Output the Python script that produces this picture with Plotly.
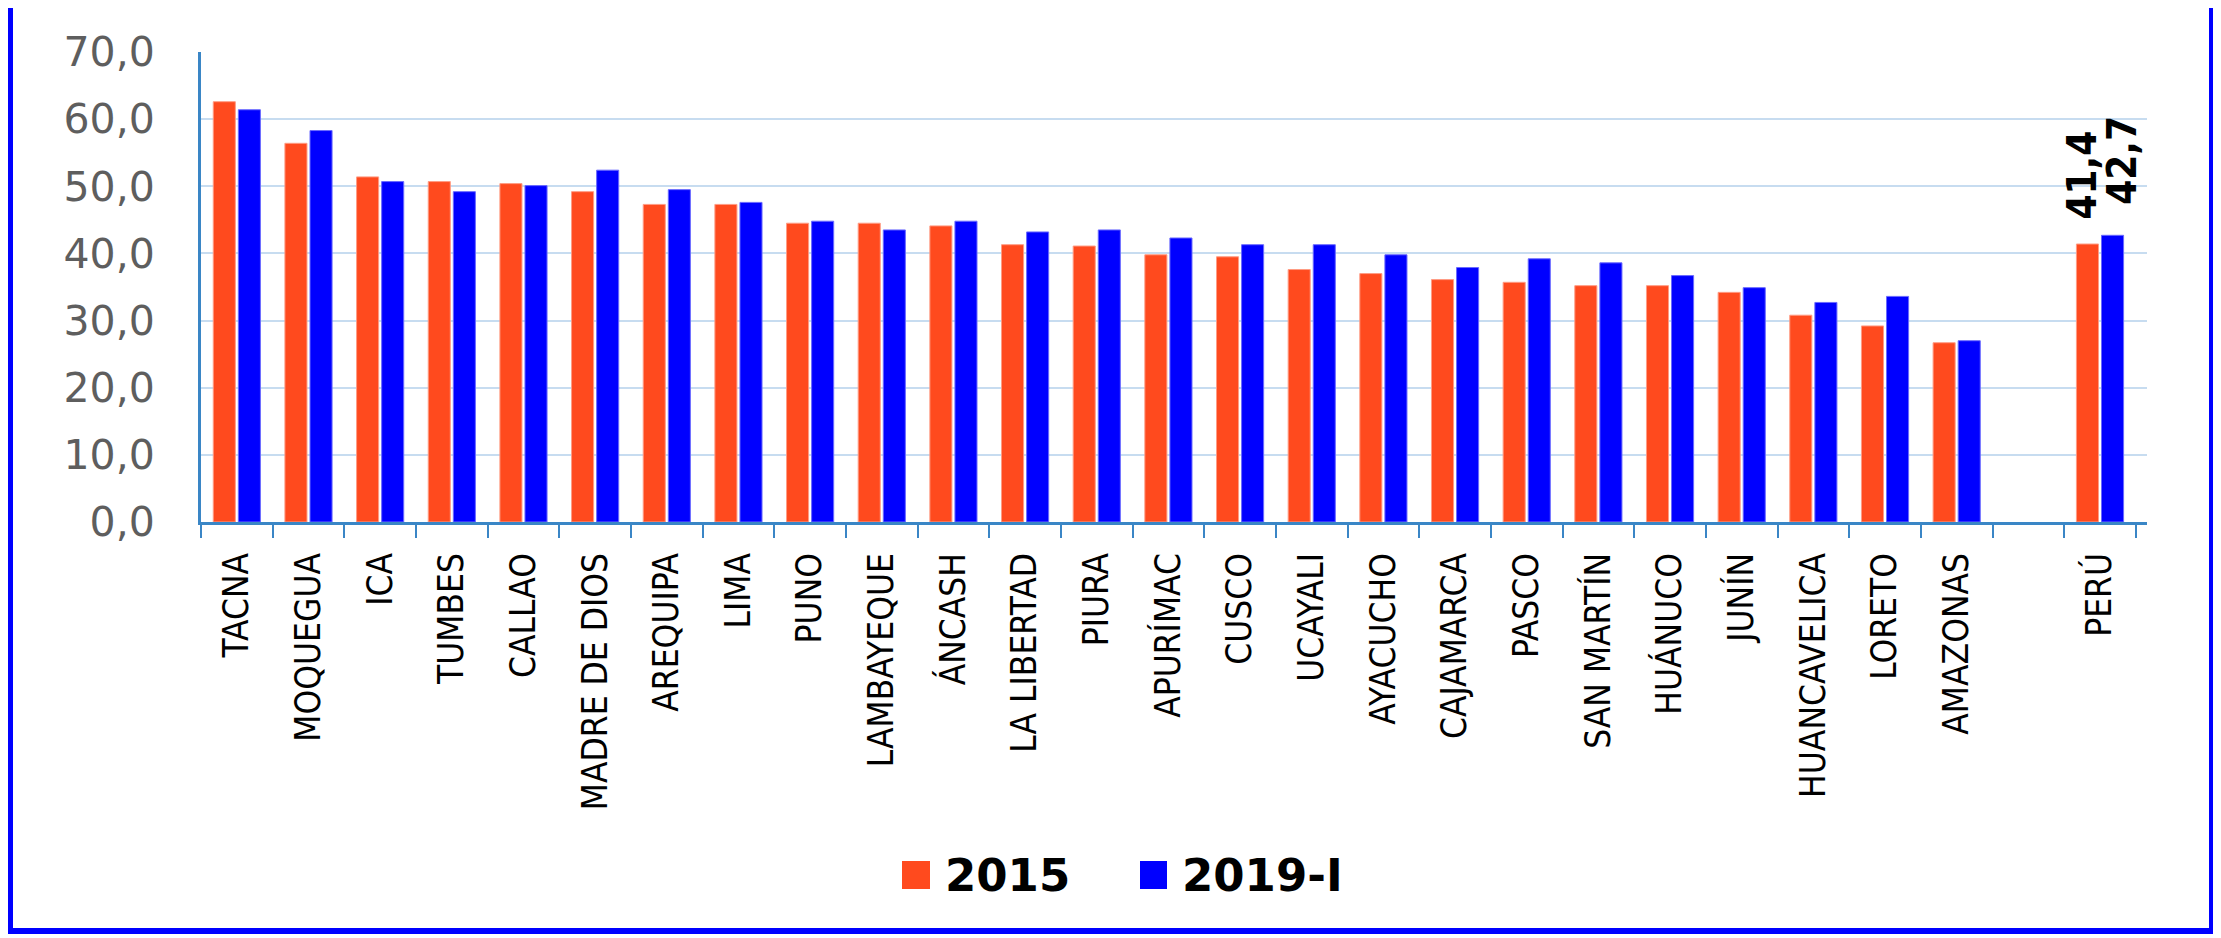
import plotly.graph_objects as go

# ---------------- data ----------------
categories = ["TACNA", "MOQUEGUA", "ICA", "TUMBES", "CALLAO", "MADRE DE DIOS",
              "AREQUIPA", "LIMA", "PUNO", "LAMBAYEQUE", "ÁNCASH", "LA LIBERTAD",
              "PIURA", "APURÍMAC", "CUSCO", "UCAYALI", "AYACUCHO", "CAJAMARCA",
              "PASCO", "SAN MARTÍN", "HUÁNUCO", "JUNÍN", "HUANCAVELICA", "LORETO",
              "AMAZONAS", " ", "PERÚ"]
values_2015 = [62.6, 56.4, 51.4, 50.7, 50.4, 49.2, 47.3, 47.3, 44.5, 44.5, 44.1, 41.3,
               41.1, 39.8, 39.5, 37.6, 37.0, 36.1, 35.7, 35.2, 35.2, 34.2, 30.8, 29.2,
               26.7, None, 41.4]
values_2019 = [61.4, 58.3, 50.7, 49.2, 50.1, 52.4, 49.5, 47.6, 44.8, 43.5, 44.8, 43.2,
               43.5, 42.3, 41.3, 41.3, 39.8, 37.9, 39.2, 38.6, 36.7, 34.9, 32.7, 33.6,
               27.0, None, 42.7]
series_names = ["2015", "2019-I"]
y_ticks = [0, 10, 20, 30, 40, 50, 60, 70]
labelled_category = "PERÚ"

# ---------------- styling / layout constants ----------------
W, H = 2221, 938
OFF = 8  # page body margin offset
PL, PR, PT, PB = 201, 2147, 52, 522  # plot area in reference pixels
L, T = PL - OFF, PT - OFF
R, B = W - (PR - OFF), H - (PB - OFF)
PW, PH = PR - PL, PB - PT
ORANGE = "#FF4A1E"
BLUE = "#0000FF"
AXIS = "#3A86C6"
GRID = "#C7DCF0"


def px_x(px):
    return (px - PL) / PW


def px_y(py):
    return (PB - py) / PH


fig = go.Figure()
fig.add_trace(go.Bar(x=categories, y=values_2015, name=series_names[0],
                     marker=dict(color=ORANGE, line=dict(width=1, color="#FF9C84")),
                     showlegend=False))
fig.add_trace(go.Bar(x=categories, y=values_2019, name=series_names[1],
                     marker=dict(color=BLUE, line=dict(width=1, color="#6A6AFF")),
                     showlegend=False))

# value labels for PERÚ
idx = categories.index(labelled_category)
for val, shift, yshift in [(values_2015[idx], -18, 22), (values_2019[idx], 22, 28)]:
    fig.add_annotation(x=labelled_category, y=val, xref="x", yref="y",
                       text=f"{val:.1f}".replace(".", ","), showarrow=False,
                       textangle=-90, xshift=shift, yshift=yshift,
                       yanchor="bottom", xanchor="center",
                       font=dict(family="Liberation Sans Narrow, DejaVu Sans Condensed, sans-serif",
                                 size=40, color="black", weight="bold"))

# manual legend (large squares)
legend_items = [(series_names[0], ORANGE, 902, 930, 943),
                (series_names[1], BLUE, 1140, 1167, 1180)]
for name, col, x0, x1, tx in legend_items:
    fig.add_shape(type="rect", xref="paper", yref="paper",
                  x0=px_x(x0), x1=px_x(x1), y0=px_y(889), y1=px_y(861),
                  fillcolor=col, line=dict(width=0))
    fig.add_annotation(xref="paper", yref="paper", x=px_x(tx), y=px_y(875),
                       text=name, showarrow=False, xanchor="left", yanchor="middle",
                       font=dict(family="DejaVu Sans", size=45, color="black", weight="bold"))

# outer blue frame
fig.add_shape(type="rect", xref="paper", yref="paper",
              x0=px_x(10), x1=px_x(2212), y0=px_y(931), y1=px_y(4),
              line=dict(color=BLUE, width=6), fillcolor="rgba(0,0,0,0)", layer="above")

fig.update_layout(
    width=W, height=H,
    margin=dict(l=L, r=R, t=T, b=B, autoexpand=False),
    paper_bgcolor="white", plot_bgcolor="white",
    barmode="group", bargap=0.3, bargroupgap=0.12,
    separators=", ",
    showlegend=False,
    xaxis=dict(type="category", categoryorder="array", categoryarray=categories,
               automargin=False,
               tickangle=-90, tickson="boundaries", ticks="outside", ticklen=13,
               tickwidth=2, tickcolor=AXIS, showline=True, linecolor=AXIS, linewidth=3,
               showgrid=False, ticklabelstandoff=14,
               tickfont=dict(family="Liberation Sans Narrow, DejaVu Sans Condensed, sans-serif",
                             size=35, color="black")),
    yaxis=dict(range=[0, 70], tickvals=y_ticks, tickformat=".1f", automargin=False,
               showline=True, linecolor=AXIS, linewidth=3,
               showgrid=True, gridcolor=GRID, gridwidth=2, zeroline=False,
               ticks="", ticklabelstandoff=35,
               tickfont=dict(family="DejaVu Sans", size=41, color="#5E5E5E")),
)

fig.write_html("out.html")
